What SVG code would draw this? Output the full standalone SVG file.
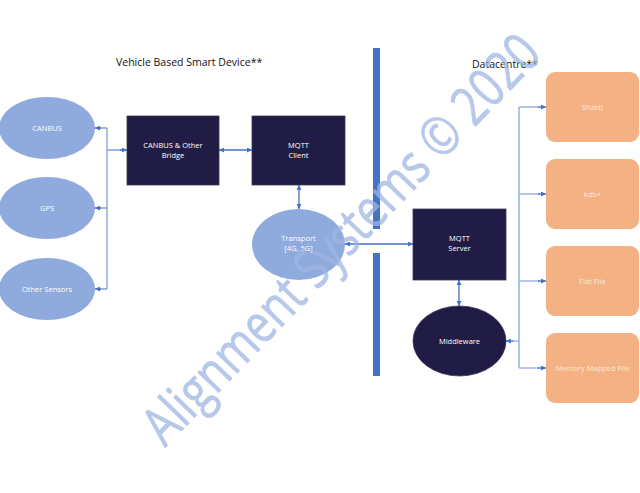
<svg xmlns="http://www.w3.org/2000/svg" width="640" height="493" viewBox="0 0 640 493">
<style>
.title{font-family:"Open Sans","Liberation Sans",sans-serif;font-size:10.5px;fill:#111}
.lbl{font-family:"Open Sans","Liberation Sans",sans-serif;font-size:7.5px;fill:#fff;text-anchor:middle}
.lbl2{font-family:"Open Sans","Liberation Sans",sans-serif;font-size:7.5px;fill:#FCE8DA;text-anchor:middle}
.ell{fill:#8FAADC}
.dark{fill:#211C45;stroke:#3A3A5A;stroke-width:0.8}
.org{fill:#F4B183}
.bar{fill:#4472C4}
.ln{fill:none;stroke:#4472C4;stroke-width:1.3}
.trunk{fill:none;stroke:#7F9FD8;stroke-width:1.3}
.trunkR{fill:none;stroke:#9FB6E2;stroke-width:1.6}
.wm{font-family:"Open Sans","Liberation Sans",sans-serif;font-size:54px;fill:#9FB6E3;stroke:#9FB6E3;stroke-width:0.8;opacity:0.75}
</style>
<defs>
<marker id="ah" viewBox="0 0 10 10" refX="10" refY="5" markerWidth="5" markerHeight="5" orient="auto-start-reverse" markerUnits="userSpaceOnUse">
<path d="M0,0 L10,5 L0,10 z" fill="#4472C4"/>
</marker>
</defs>
<rect width="640" height="493" fill="#fff"/>
<text class="title" x="116" y="66">Vehicle Based Smart Device**</text>
<text class="title" x="472" y="68">Datacentre**</text>
<rect class="bar" x="373" y="48" width="7" height="181"/>
<rect class="bar" x="373" y="253" width="7" height="123"/>
<g id="connectors">
<path class="trunk" d="M107,128 V289 M107,128 H100 M107,208 H100 M107,289 H100 M107,150 H122"/>
<path class="ln" d="M101,128 H95" marker-end="url(#ah)"/>
<path class="ln" d="M101,208 H95" marker-end="url(#ah)"/>
<path class="ln" d="M101,289 H95" marker-end="url(#ah)"/>
<path class="ln" d="M120,150 H127" marker-end="url(#ah)"/>
<path class="ln" d="M219,150 H252" marker-start="url(#ah)" marker-end="url(#ah)"/>
<path class="ln" d="M299,185 V209" marker-start="url(#ah)" marker-end="url(#ah)"/>
<path class="ln" d="M345,244 H413" marker-start="url(#ah)" marker-end="url(#ah)"/>
<path class="ln" d="M459,280 V306" marker-start="url(#ah)" marker-end="url(#ah)"/>
<path class="trunkR" d="M519,107 V368 M519,107 H540 M519,194 H540 M519,281 H540 M519,368 H540 M519,341 H512"/>
<path class="ln" d="M538,107 H546" marker-end="url(#ah)"/>
<path class="ln" d="M538,194 H546" marker-end="url(#ah)"/>
<path class="ln" d="M538,281 H546" marker-end="url(#ah)"/>
<path class="ln" d="M538,368 H546" marker-end="url(#ah)"/>
<path class="ln" d="M513,341 H506" marker-end="url(#ah)"/>
</g>
<g id="canbus"><ellipse class="ell" cx="47" cy="128" rx="48" ry="31"/><text class="lbl" x="47" y="131">CANBUS</text></g>
<g id="gps"><ellipse class="ell" cx="47" cy="208" rx="48" ry="31"/><text class="lbl" x="47" y="211">GPS</text></g>
<g id="other-sensors"><ellipse class="ell" cx="47" cy="289" rx="48" ry="31"/><text class="lbl" x="47" y="292">Other Sensors</text></g>
<g id="bridge"><rect class="dark" x="127" y="116" width="92" height="69"/><text class="lbl" x="173" y="148">CANBUS &amp; Other</text><text class="lbl" x="173" y="158">Bridge</text></g>
<g id="mqtt-client"><rect class="dark" x="252" y="116" width="93" height="69"/><text class="lbl" x="298.5" y="148">MQTT</text><text class="lbl" x="298.5" y="158">Client</text></g>
<g id="transport"><ellipse class="ell" cx="298.5" cy="244.5" rx="46.5" ry="35.5"/><text class="lbl" x="298.5" y="241">Transport</text><text class="lbl" x="298.5" y="251">[4G, 5G]</text></g>
<g id="mqtt-server"><rect class="dark" x="413" y="209" width="93" height="71"/><text class="lbl" x="459.5" y="241">MQTT</text><text class="lbl" x="459.5" y="251">Server</text></g>
<g id="middleware"><ellipse class="dark" cx="459.5" cy="341" rx="46.5" ry="35"/><text class="lbl" x="459.5" y="344">Middleware</text></g>
<g id="shakti"><rect class="org" x="546" y="72" width="93" height="70" rx="9"/><text class="lbl2" x="592.5" y="110">Shakti</text></g>
<g id="kdb"><rect class="org" x="546" y="159" width="93" height="70" rx="9"/><text class="lbl2" x="592.5" y="197">kdb+</text></g>
<g id="flat-file"><rect class="org" x="546" y="246" width="93" height="70" rx="9"/><text class="lbl2" x="592.5" y="284">Flat File</text></g>
<g id="memory-mapped-file"><rect class="org" x="546" y="333" width="93" height="70" rx="9"/><text class="lbl2" x="592.5" y="371">Memory Mapped File</text></g>
<text class="wm" transform="translate(165,448) rotate(-46)" textLength="545" lengthAdjust="spacingAndGlyphs">Alignment Systems © 2020</text>
</svg>
